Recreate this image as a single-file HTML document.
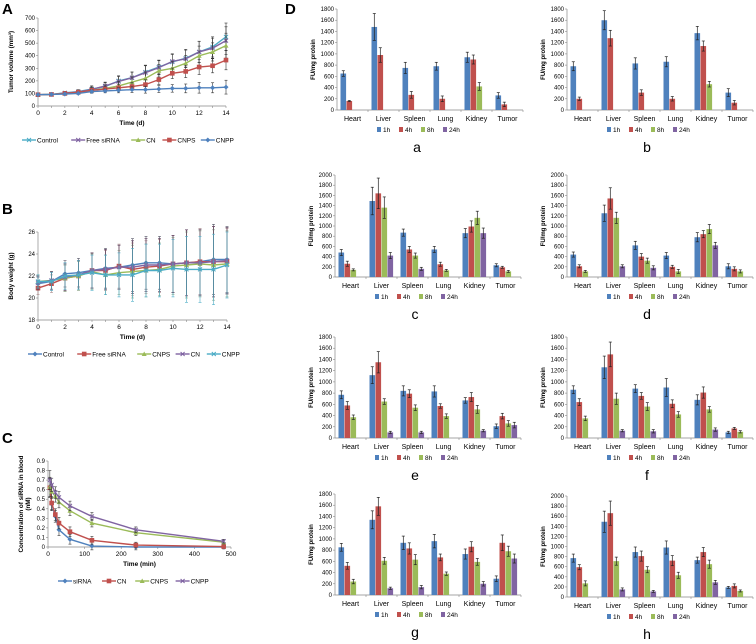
<!DOCTYPE html>
<html><head><meta charset="utf-8"><style>
html,body{margin:0;padding:0;background:#fff;width:756px;height:644px;overflow:hidden}
svg{display:block;font-family:"Liberation Sans",Arial,sans-serif}
</style></head><body>
<svg id="fig" width="756" height="644" viewBox="0 0 756 644" xmlns="http://www.w3.org/2000/svg"></svg>
<script>
// ---------- data ----------
const organs = ["Heart","Liver","Spleen","Lung","Kidney","Tumor"];
const times = ["1h","4h","8h","24h"];
const barColors = ["#4f81bd","#c0504d","#9bbb59","#8064a2"];
// panel a..h values per time point (rows: 1h,4h,8h,24h) and errors
const aVals=[[650,1480,750,780,940,260],[160,980,270,200,900,100],[0,0,0,0,420,0],[0,0,0,0,0,0]];
const aErr=[[50,240,100,70,90,50],[10,130,60,50,80,40],[0,0,0,0,70,0],[0,0,0,0,0,0]];
const bVals=[[780,1600,830,860,1370,310],[200,1280,310,200,1140,130],[0,0,0,0,460,0],[0,0,0,0,0,0]];
const bErr=[[80,170,100,90,120,70],[30,140,50,40,90,40],[0,0,0,0,50,0],[0,0,0,0,0,0]];
const cVals=[[480,1490,870,540,860,230],[260,1640,540,250,990,190],[140,1360,420,130,1160,110],[0,420,160,0,860,0]];
const cErr=[[60,270,70,60,90,30],[50,300,60,40,110,20],[20,210,50,20,130,20],[0,60,30,0,100,0]];
const dVals=[[440,1250,620,420,780,210],[210,1540,400,200,840,160],[110,1160,320,110,940,110],[0,210,180,0,620,0]];
const dErr=[[50,160,80,60,90,50],[30,210,60,30,70,40],[20,110,50,40,90,30],[0,30,40,0,60,0]];
const eVals=[[770,1120,840,830,670,210],[580,1350,790,570,730,390],[370,650,540,390,510,260],[0,100,100,0,130,230]];
const eErr=[[70,150,90,100,50,40],[70,190,70,40,80,50],[40,50,50,40,70,50],[0,20,20,0,20,50]];
const fVals=[[860,1260,880,900,680,100],[640,1490,750,610,810,170],[350,700,560,420,510,110],[0,130,120,0,150,0]];
const fErr=[[70,200,70,160,90,20],[60,220,60,70,100,20],[40,100,70,50,50,20],[0,20,30,0,30,0]];
const gVals=[[850,1340,930,960,730,290],[520,1580,830,670,860,930],[240,610,630,380,590,780],[0,120,140,0,200,650]];
const gErr=[[70,160,120,120,90,50],[60,160,100,60,90,140],[40,60,90,30,60,90],[0,20,30,0,40,80]];
const hVals=[[770,1490,890,980,730,190],[590,1660,810,720,890,220],[270,710,540,430,650,120],[0,150,110,0,290,0]];
const hErr=[[80,210,100,130,60,20],[50,240,100,100,90,40],[50,80,60,60,80,20],[0,30,20,0,40,0]];

// Panel A: tumor volume
const aDays=[0,1,2,3,4,5,6,7,8,9,10,11,12,13,14];
const tvControl=[90,92,105,115,135,155,200,225,270,310,350,380,430,470,550];
const tvFree=[90,92,103,112,132,160,195,225,265,305,355,375,430,460,520];
const tvCN=[90,92,100,108,125,140,160,190,220,280,300,340,400,430,480];
const tvCNPS=[90,92,100,110,125,135,145,155,170,210,260,275,310,320,365];
const tvCNPP=[90,92,95,100,115,120,125,130,130,135,140,140,145,145,150];
const tvErr=[5,8,12,15,25,30,40,45,55,55,60,70,85,80,110];
// Panel B: body weight
const bwControl=[21.3,21.5,22.2,22.3,22.5,22.7,22.8,23.0,23.2,23.2,23.1,23.2,23.3,23.5,23.5];
const bwFree=[20.9,21.3,21.8,22.0,22.5,22.5,22.9,22.6,22.8,22.9,23.1,23.2,23.3,23.3,23.3];
const bwCNPS=[21.5,21.6,21.8,22.0,22.4,22.1,22.3,22.4,22.5,22.6,22.9,23.0,23.1,23.0,23.1];
const bwCN=[21.4,21.6,21.9,22.1,22.5,22.6,22.8,22.8,23.0,23.0,23.1,23.2,23.2,23.3,23.4];
const bwCNPP=[21.5,21.5,22.0,22.1,22.3,22.1,22.1,22.1,22.5,22.5,22.7,22.6,22.6,22.6,23.0];
const bwErr=[0.6,0.8,1.2,1.3,1.6,1.8,2.0,2.4,2.4,2.4,2.6,3.0,3.0,3.2,3.0];
// Panel C: blood concentration
const cMin=[5,10,20,30,60,120,240,480];
const pkSiRNA=[0.62,0.45,0.32,0.18,0.08,0.01,0.0,0.0];
const pkCN=[0.62,0.46,0.34,0.25,0.16,0.07,0.02,0.005];
const pkCNPS=[0.63,0.58,0.53,0.47,0.38,0.25,0.15,0.05];
const pkCNPP=[0.70,0.65,0.57,0.52,0.43,0.32,0.18,0.06];
const pkErr=[0.1,0.07,0.06,0.06,0.05,0.04,0.03,0.02];

// ---------- helpers ----------
const NS="http://www.w3.org/2000/svg";
const svg=document.getElementById('fig');
function mk(tag,attrs,parent,text){const e=document.createElementNS(NS,tag);for(const k in attrs)e.setAttribute(k,attrs[k]);if(text!==undefined)e.textContent=text;(parent||svg).appendChild(e);return e;}
function lin(d0,d1,r0,r1){return v=>r0+(v-d0)/(d1-d0)*(r1-r0);}
function txt(x,y,s,size,opts,parent,name){const e=mk('text',Object.assign({x:x,y:y,'font-size':size,fill:'#000'},opts||{}),parent,s);return e;}

function yAxis(g,x0,y,ticks,fmt,x1){
  const ax=mk('line',{x1:x0,x2:x0,y1:y(ticks[ticks.length-1]),y2:y(ticks[0]),stroke:'#888','stroke-width':0.7},g);
  
  ticks.forEach(t=>{mk('line',{x1:x0-2,x2:x0,y1:y(t),y2:y(t),stroke:'#888','stroke-width':0.6},g);
    txt(x0-3,y(t)+2,fmt(t),6,{'text-anchor':'end'},g,'y-tick-label');});
}

// ---------- bar charts ----------
function barPanel(id,vals,errs,x0,yTop,yBot,ymax,step,letter){
  const g=mk('g',{});
  const cw=31,y=lin(0,ymax,yBot,yTop);
  const ticks=[];for(let t=0;t<=ymax;t+=step)ticks.push(t);
  yAxis(g,x0,y,ticks,t=>String(t));
  const xa=mk('line',{x1:x0,x2:x0+cw*6,y1:yBot,y2:yBot,stroke:'#888','stroke-width':0.7},g);
  
  const at=txt(x0-22,(yTop+yBot)/2,'FU/mg protein',6,{'font-weight':'bold','text-anchor':'middle',transform:'rotate(-90 '+(x0-22)+' '+((yTop+yBot)/2)+')'},g,'y-axis-title');
  organs.forEach((o,i)=>{
    const cx=x0+cw*(i+0.5);
    mk('line',{x1:x0+cw*(i+1),x2:x0+cw*(i+1),y1:yBot,y2:yBot+2,stroke:'#888','stroke-width':0.6},g);
    txt(cx,yBot+11,o,7,{'text-anchor':'middle'},g,'category-label');
    times.forEach((t,k)=>{
      const v=vals[k][i];if(!v)return;
      const bx=cx-12+k*6;
      const r=mk('rect',{x:bx,y:y(v),width:5.6,height:yBot-y(v),fill:barColors[k]},g);
      
      const e=errs[k][i];if(e){const ex=bx+2.8;
        mk('line',{x1:ex,x2:ex,y1:y(v+e),y2:y(v-e),stroke:'#222','stroke-width':0.7},g);
        mk('line',{x1:ex-1.5,x2:ex+1.5,y1:y(v+e),y2:y(v+e),stroke:'#222','stroke-width':0.7},g);
        mk('line',{x1:ex-1.5,x2:ex+1.5,y1:y(v-e),y2:y(v-e),stroke:'#222','stroke-width':0.7},g);}
    });
  });
  // legend
  const lx=x0+40,ly=yBot+22;
  const lg=mk('g',{},g);
  times.forEach((t,k)=>{const xx=lx+k*22+(k==3?0:0);
    mk('rect',{x:xx,y:ly-5,width:4,height:5,fill:barColors[k]},lg);
    txt(xx+6,ly,t,6.5,{},lg,'legend-entry');});
  txt(x0+80,ly+20,letter,14,{'text-anchor':'middle'},g,'panel-label-'+letter);
}
barPanel('a',aVals,aErr,337,9,110,1800,200,'a');
barPanel('b',bVals,bErr,567,9,110,1800,200,'b');
barPanel('c',cVals,cErr,335,175,277,2000,200,'c');
barPanel('d',dVals,dErr,567,175,277,2000,200,'d');
barPanel('e',eVals,eErr,335,337,438,1800,200,'e');
barPanel('f',fVals,fErr,567,337,438,1800,200,'f');
barPanel('g',gVals,gErr,335,494,595,1800,200,'g');
barPanel('h',hVals,hErr,567,496,597,2000,200,'h');

// ---------- line charts ----------
function marker(g,type,x,y,c){
  if(type=='diamond')mk('path',{d:`M${x} ${y-2.5}L${x+2.5} ${y}L${x} ${y+2.5}L${x-2.5} ${y}Z`,fill:c},g);
  else if(type=='square')mk('rect',{x:x-2.3,y:y-2.3,width:4.6,height:4.6,fill:c},g);
  else if(type=='tri')mk('path',{d:`M${x} ${y-2.5}L${x+2.5} ${y+2}L${x-2.5} ${y+2}Z`,fill:c},g);
  else if(type=='x'){mk('path',{d:`M${x-2} ${y-2}L${x+2} ${y+2}M${x-2} ${y+2}L${x+2} ${y-2}`,stroke:c,'stroke-width':1},g);}
  else if(type=='star'){mk('path',{d:`M${x-2.5} ${y}L${x+2.5} ${y}M${x} ${y-2.5}L${x} ${y+2.5}M${x-2} ${y-2}L${x+2} ${y+2}`,stroke:c,'stroke-width':0.9},g);}
}
function linePanel(name,xs,series,errs,x,y,xTicks,xLabelEvery,yTicks,yFmt,x0,x1,yB,yT,xtitle,ytitle,legY,legX,legGap){
  const g=mk('g',{});
  yAxis(g,x0,y,yTicks,yFmt);
  const xa=mk('line',{x1:x0,x2:x1,y1:yB,y2:yB,stroke:'#888','stroke-width':0.7},g);
  
  xTicks.forEach((t,i)=>{mk('line',{x1:x(t),x2:x(t),y1:yB,y2:yB+2,stroke:'#888','stroke-width':0.6},g);
    if(i%xLabelEvery==0)txt(x(t),yB+9,String(t),6.5,{'text-anchor':'middle'},g,'x-tick-label');});
  txt((x0+x1)/2,yB+19,xtitle,6.5,{'font-weight':'bold','text-anchor':'middle'},g,'x-axis-title');
  const ytx=x0-25,yty=(yB+yT)/2;
  ytitle.forEach((s,i)=>txt(ytx+i*7,yty,s,6.3,{'font-weight':'bold','text-anchor':'middle',transform:`rotate(-90 ${ytx+i*7} ${yty})`},g,'y-axis-title'));
  series.forEach(s=>{
    const sg=mk('g',{},g);
    s.v.forEach((v,i)=>{const e=errs[i]*(s.ef||1);const px=x(xs[i]);
      mk('line',{x1:px,x2:px,y1:y(v+e),y2:y(v-e),stroke:s.ec||'#333','stroke-width':0.6},sg);
      mk('line',{x1:px-1.5,x2:px+1.5,y1:y(v+e),y2:y(v+e),stroke:s.ec||'#333','stroke-width':0.6},sg);
      mk('line',{x1:px-1.5,x2:px+1.5,y1:y(v-e),y2:y(v-e),stroke:s.ec||'#333','stroke-width':0.6},sg);});
    mk('polyline',{points:s.v.map((v,i)=>x(xs[i])+','+y(v)).join(' '),fill:'none',stroke:s.c,'stroke-width':1.4},sg);
    s.v.forEach((v,i)=>marker(sg,s.m,x(xs[i]),y(v),s.c));
  });
  const lg=mk('g',{},g);
  let lx=legX;
  series.forEach(s=>{mk('line',{x1:lx,x2:lx+14,y1:legY,y2:legY,stroke:s.c,'stroke-width':1.4},lg);marker(lg,s.m,lx+7,legY,s.c);
    const t=txt(lx+15,legY+2.3,s.name,6.5,{},lg,'legend-entry');lx+=18+s.name.length*3.6+legGap;});
}
// A
{const x=lin(0,14,38,226),y=lin(0,700,106,18);
linePanel('tumor-volume-chart',aDays,[
 {name:'Control',v:tvControl,c:'#4bacc6',m:'x'},
 {name:'Free siRNA',v:tvFree,c:'#8064a2',m:'x'},
 {name:'CN',v:tvCN,c:'#9bbb59',m:'tri',ef:0.9},
 {name:'CNPS',v:tvCNPS,c:'#c0504d',m:'square',ef:0.7},
 {name:'CNPP',v:tvCNPP,c:'#4f81bd',m:'diamond',ef:0.5}],
 tvErr,x,y,aDays,2,[0,100,200,300,400,500,600,700],String,38,226,106,18,'Time (d)',['Tumor volume (mm³)'],140,22,6);}
// B
{const x=lin(0,14,38,227),y=lin(18,26,320,232);
linePanel('body-weight-chart',aDays,[
 {name:'Control',v:bwControl,c:'#4f81bd',m:'diamond',ec:'#556'},
 {name:'Free siRNA',v:bwFree,c:'#c0504d',m:'square',ec:'#a88'},
 {name:'CNPS',v:bwCNPS,c:'#9bbb59',m:'tri',ec:'#8a8'},
 {name:'CN',v:bwCN,c:'#8064a2',m:'x',ec:'#535'},
 {name:'CNPP',v:bwCNPP,c:'#4bacc6',m:'x',ec:'#4bacc6'}],
 bwErr,x,y,aDays,2,[18,20,22,24,26],String,38,227,320,232,'Time (d)',['Body weight (g)'],354,28,6);}
// C
{const x=lin(0,500,48,231),y=lin(0,0.9,547,461);
linePanel('blood-concentration-chart',cMin,[
 {name:'siRNA',v:pkSiRNA,c:'#4f81bd',m:'diamond'},
 {name:'CN',v:pkCN,c:'#c0504d',m:'square'},
 {name:'CNPS',v:pkCNPS,c:'#9bbb59',m:'tri'},
 {name:'CNPP',v:pkCNPP,c:'#8064a2',m:'x'}],
 pkErr,x,y,[0,100,200,300,400,500],1,[0,0.1,0.2,0.3,0.4,0.5,0.6,0.7,0.8,0.9],t=>(Math.round(t*10)/10).toString(),48,231,547,461,'Time (min)',['Concentration  of siRNA  in blood','(nM)'],581,58,8);}

// panel letters
[['A',2,14],['B',2,214],['C',2,443],['D',285,14]].forEach(p=>txt(p[1],p[2],p[0],15,{'font-weight':'bold'},svg,'panel-letter-'+p[0].toLowerCase()));
</script>
</body></html>
